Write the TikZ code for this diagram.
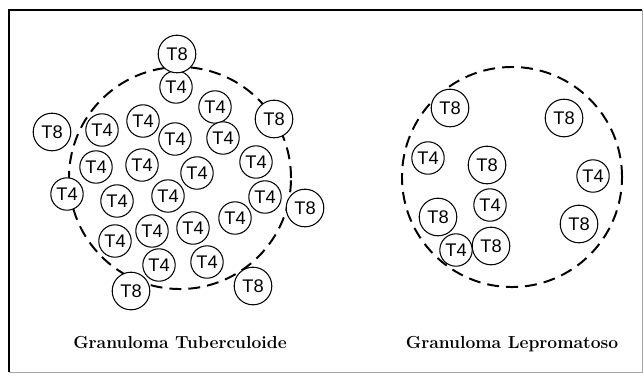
\documentclass[tikz,border=0pt]{standalone}
\usepackage{fontspec}
\setsansfont{Liberation Sans}
\usepackage{tikz}
\usetikzlibrary{positioning}
\tikzset{
  celula/.style={circle,draw=black,line width=0.75pt,fill=white,inner sep=0pt,font=\sffamily\fontsize{13}{15}\selectfont},
  celT4/.style={celula,minimum size=0.81cm},
  celT8/.style={celula,minimum size=0.94cm},
  granuloma/.style={circle,draw=black,line width=1.4pt,dash pattern=on 8.5pt off 5pt,inner sep=0pt},
  titulo/.style={font=\rmfamily\bfseries\fontsize{12.4}{14}\selectfont,anchor=base},
}

\begin{document}
\begin{tikzpicture}[x=0.025cm,y=-0.025cm]
  \useasboundingbox (0,0) rectangle (643,376);
  % marco
  \draw[black!35,line width=0.6pt] (9,10) rectangle (642,372);
  \draw[line width=1.8pt] (9,372) -- (9,10) -- (642,10);
  % granuloma tuberculoide
  \node[granuloma,minimum size=5.55cm] (gtub) at (180,178) {};
  \node[celT4] (ta1) at (176,87) {T4};
  \node[celT4] (ta2) at (215,107) {T4};
  \node[celT4] (ta3) at (102,130) {T4};
  \node[celT4] (ta4) at (143,121) {T4};
  \node[celT4] (ta5) at (175,139) {T4};
  \node[celT4] (ta6) at (223,138) {T4};
  \node[celT4] (ta7) at (96,167) {T4};
  \node[celT4] (ta8) at (142,165) {T4};
  \node[celT4] (ta9) at (197,173) {T4};
  \node[celT4] (ta10) at (256,162) {T4};
  \node[celT4] (ta11) at (67,194) {T4};
  \node[celT4] (ta12) at (117,201) {T4};
  \node[celT4] (ta13) at (168,196) {T4};
  \node[celT4] (ta14) at (265,197) {T4};
  \node[celT4] (ta15) at (235,218) {T4};
  \node[celT4] (ta16) at (115,241) {T4};
  \node[celT4] (ta17) at (152,231) {T4};
  \node[celT4] (ta18) at (193,228) {T4};
  \node[celT4] (ta19) at (159,265) {T4};
  \node[celT4] (ta20) at (207,262) {T4};
  \node[celT8] (tb1) at (177,54) {T8};
  \node[celT8] (tb2) at (274,119) {T8};
  \node[celT8] (tb3) at (52,132) {T8};
  \node[celT8] (tb4) at (305,208) {T8};
  \node[celT8] (tb5) at (131,291) {T8};
  \node[celT8] (tb6) at (253,286) {T8};
  % granuloma lepromatoso
  \node[granuloma,minimum size=5.5cm] (glep) at (512,177) {};
  \node[celT4] (la1) at (428,158) {T4};
  \node[celT4] (la2) at (593,176) {T4};
  \node[celT4] (la3) at (490,205) {T4};
  \node[celT4] (la4) at (456,250) {T4};
  \node[celT8] (lb1) at (450,108) {T8};
  \node[celT8] (lb2) at (564,118) {T8};
  \node[celT8] (lb3) at (487,165) {T8};
  \node[celT8] (lb4) at (438,217) {T8};
  \node[celT8] (lb5) at (579,224) {T8};
  \node[celT8] (lb6) at (491,246) {T8};
  % titulos
  \node[titulo] (tittub) at (180,348) {Granuloma Tuberculoide};
  \node[titulo] (titlep) at (512,348) {Granuloma Lepromatoso};
\end{tikzpicture}
\end{document}
